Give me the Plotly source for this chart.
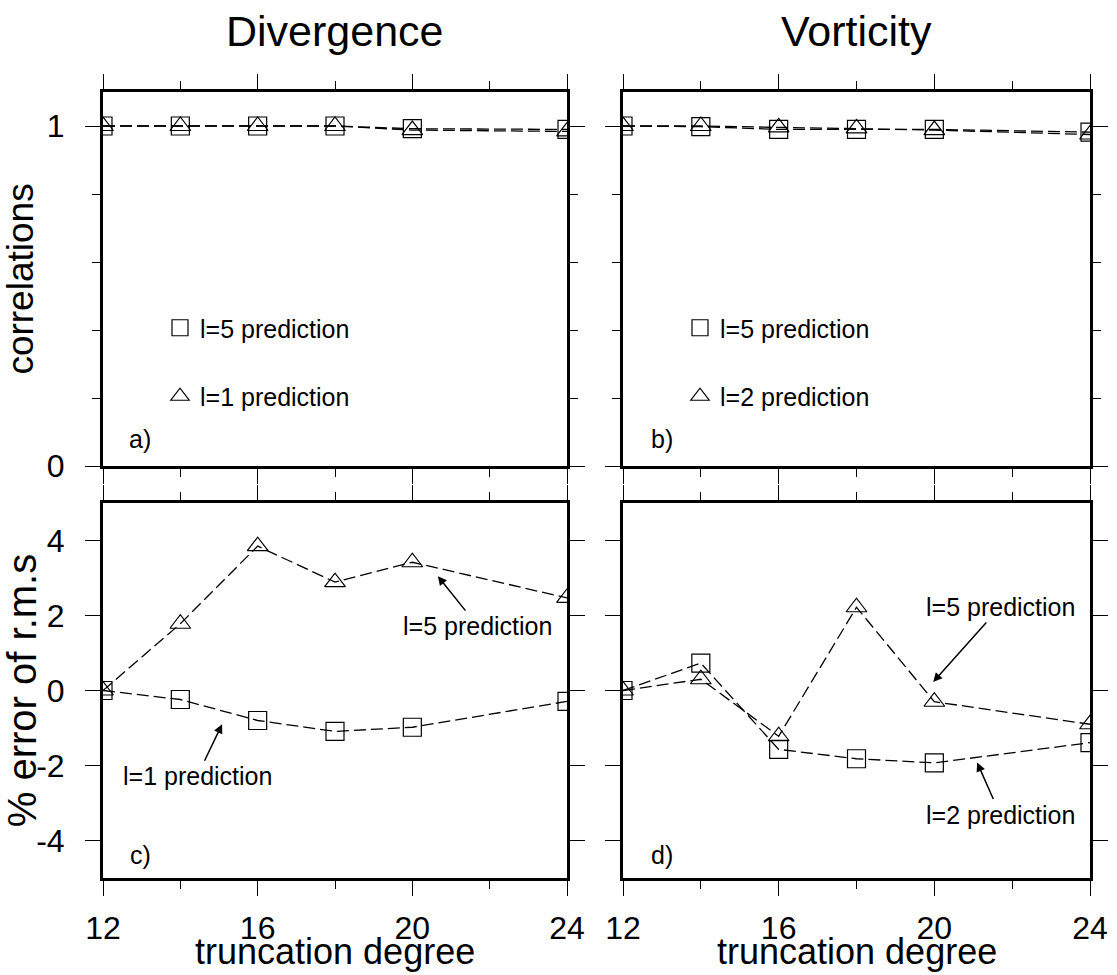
import plotly.graph_objects as go

# ---------------- data ----------------
x_deg = [12, 14, 16, 18, 20, 24]

# correlations (top panels)
corr_div_sq = [1.0, 1.0, 1.0, 1.0, 0.992, 0.99]     # a) squares  (l=5 prediction)
corr_div_tri = [1.0, 1.0, 1.0, 1.0, 0.988, 0.984]   # a) triangles (l=1 prediction)
corr_vor_sq = [1.0, 0.998, 0.99, 0.99, 0.99, 0.982]  # b) squares  (l=5 prediction)
corr_vor_tri = [1.0, 1.0, 0.996, 0.993, 0.988, 0.975]  # b) triangles (l=2 prediction)

# % error of r.m.s (bottom panels)
err_div_sq = [0.0, -0.24, -0.8, -1.09, -0.98, -0.29]   # c) squares
err_div_tri = [0.0, 1.78, 3.85, 2.89, 3.42, 2.47]      # c) triangles
err_vor_sq = [0.0, 0.73, -1.57, -1.82, -1.93, -1.39]   # d) squares
err_vor_tri = [0.0, 0.3, -1.22, 2.22, -0.3, -0.9]      # d) triangles

x_major = [12, 16, 20, 24]
x_minor = [14, 18, 22]
corr_major = [0, 1]
corr_minor = [0.2, 0.4, 0.6, 0.8]
err_major = [-4, -2, 0, 2, 4]

FONT = "Liberation Sans, Arial, Helvetica, sans-serif"
W, H = 1117, 975

fig = go.Figure()

line_style = dict(color="black", width=1.3, dash="12px,5px")


def add_series(xa, ya, yvals, symbol):
    fig.add_trace(go.Scatter(
        x=x_deg, y=yvals, xaxis=xa, yaxis=ya, mode="lines+markers",
        line=line_style,
        marker=dict(symbol=symbol, size=18, color="black",
                    line=dict(color="black", width=1.2)),
        showlegend=False, cliponaxis=True))


add_series("x", "y", corr_div_sq, "square-open")
add_series("x", "y", corr_div_tri, "triangle-up-open")
add_series("x2", "y2", corr_vor_sq, "square-open")
add_series("x2", "y2", corr_vor_tri, "triangle-up-open")
add_series("x3", "y3", err_div_sq, "square-open")
add_series("x3", "y3", err_div_tri, "triangle-up-open")
add_series("x4", "y4", err_vor_sq, "square-open")
add_series("x4", "y4", err_vor_tri, "triangle-up-open")

# legend entries (marker only)
legend_items = [
    ("legend", "square-open", "l=5 prediction", "g1"),
    ("legend", "triangle-up-open", "l=1 prediction", "g2"),
    ("legend2", "square-open", "l=5 prediction", "g3"),
    ("legend2", "triangle-up-open", "l=2 prediction", "g4"),
]
for leg, sym, name, grp in legend_items:
    fig.add_trace(go.Scatter(
        x=[None], y=[None], mode="markers", name=name, legend=leg,
        legendgroup=grp,
        marker=dict(symbol=sym, size=16, color="black",
                    line=dict(color="black", width=1.2)),
        xaxis="x", yaxis="y"))


def px_x(p):
    return p / W


def px_y(p):
    return 1 - p / H


dom_xa = [px_x(103), px_x(567)]
dom_xb = [px_x(623), px_x(1090)]
dom_top = [px_y(466), px_y(92)]
dom_bot = [px_y(878), px_y(503)]

axis_common = dict(
    ticks="outside", ticklen=15, tickwidth=1, tickcolor="black",
    showline=True, linewidth=3, linecolor="black", mirror="allticks",
    showgrid=False, zeroline=False, automargin=False,
    tickfont=dict(size=32, color="black", family=FONT),
)

xminor = dict(tickvals=x_minor, ticks="outside", ticklen=8, tickwidth=1,
              tickcolor="black", showgrid=False)


def xaxis(domain, anchor, labels):
    return dict(axis_common, domain=domain, anchor=anchor, range=[12, 24],
                tickvals=x_major, ticktext=[str(v) for v in x_major],
                showticklabels=labels, minor=xminor, ticklabelstandoff=5)


def yaxis_corr(domain, anchor, labels, title=None):
    d = dict(axis_common, domain=domain, anchor=anchor, range=[0, 1.1],
             tickvals=corr_major, ticktext=[str(v) for v in corr_major],
             showticklabels=labels, ticklabelstandoff=14,
             minor=dict(tickvals=corr_minor, ticks="outside", ticklen=8,
                        tickwidth=1, tickcolor="black", showgrid=False))
    if title:
        d["title"] = dict(text=title, font=dict(size=37, family=FONT, color="black"),
                          standoff=8)
    return d


def yaxis_err(domain, anchor, labels, title=None):
    d = dict(axis_common, domain=domain, anchor=anchor, range=[-5, 5],
             tickvals=err_major, ticktext=[str(v) for v in err_major],
             showticklabels=labels, ticklabelstandoff=14)
    if title:
        d["title"] = dict(text=title, font=dict(size=40, family=FONT, color="black"),
                          standoff=0)
    return d


ann_font = dict(size=25, family=FONT, color="black")
title_font = dict(size=43, family=FONT, color="black")
xtitle_font = dict(size=36, family=FONT, color="black")


def panel_label(text, xa, ya, xd, yd):
    return dict(text=text, x=xd, y=yd, xref=xa + " domain", yref=ya + " domain",
                xanchor="center", yanchor="middle", showarrow=False, font=ann_font)


def arrow(text, xa, ya, x, y, ax, ay):
    return dict(text=text, x=x, y=y, xref=xa, yref=ya, ax=ax, ay=ay,
                showarrow=True, arrowhead=2, arrowsize=1.2, arrowwidth=1.5,
                arrowcolor="black", font=ann_font)


annotations = [
    dict(text="Divergence", x=px_x(335), y=px_y(31), xref="paper", yref="paper",
         xanchor="center", yanchor="middle", showarrow=False, font=title_font),
    dict(text="Vorticity", x=px_x(856), y=px_y(31), xref="paper", yref="paper",
         xanchor="center", yanchor="middle", showarrow=False, font=title_font),
    # x-axis titles
    dict(text="truncation degree", x=0.5, y=px_y(951), xref="x3 domain",
         yref="paper", xanchor="center", yanchor="middle", showarrow=False,
         font=xtitle_font),
    dict(text="truncation degree", x=0.5, y=px_y(951), xref="x4 domain",
         yref="paper", xanchor="center", yanchor="middle", showarrow=False,
         font=xtitle_font),
    panel_label("a)", "x", "y", 0.08, 0.072),
    panel_label("b)", "x2", "y2", 0.0835, 0.072),
    panel_label("c)", "x3", "y3", 0.08, 0.061),
    panel_label("d)", "x4", "y4", 0.0835, 0.061),
    arrow("l=1 prediction", "x3", "y3", 15.08, -0.9, -25, 52),
    arrow("l=5 prediction", "x3", "y3", 20.66, 3.05, 40, 50),
    arrow("l=5 prediction", "x4", "y4", 19.97, 0.23, 67, -75),
    arrow("l=2 prediction", "x4", "y4", 21.1, -1.92, 23, 52),
]

legend_common = dict(font=ann_font, bgcolor="rgba(0,0,0,0)", borderwidth=0,
                     xanchor="left", yanchor="top", tracegroupgap=33)

fig.update_layout(
    width=W, height=H, autosize=False,
    margin=dict(l=0, r=0, t=0, b=0),
    paper_bgcolor="white", plot_bgcolor="white",
    font=dict(family=FONT, color="black"),
    xaxis=xaxis(dom_xa, "y", False),
    yaxis=yaxis_corr(dom_top, "x", True, "correlations"),
    xaxis2=xaxis(dom_xb, "y2", False),
    yaxis2=yaxis_corr(dom_top, "x2", False),
    xaxis3=xaxis(dom_xa, "y3", True),
    yaxis3=yaxis_err(dom_bot, "x3", True, "% error of r.m.s"),
    xaxis4=xaxis(dom_xb, "y4", True),
    yaxis4=yaxis_err(dom_bot, "x4", False),
    annotations=annotations,
    legend=dict(legend_common, x=px_x(160), y=px_y(305)),
    legend2=dict(legend_common, x=px_x(680), y=px_y(305)),
)

fig.write_html("out.html")
